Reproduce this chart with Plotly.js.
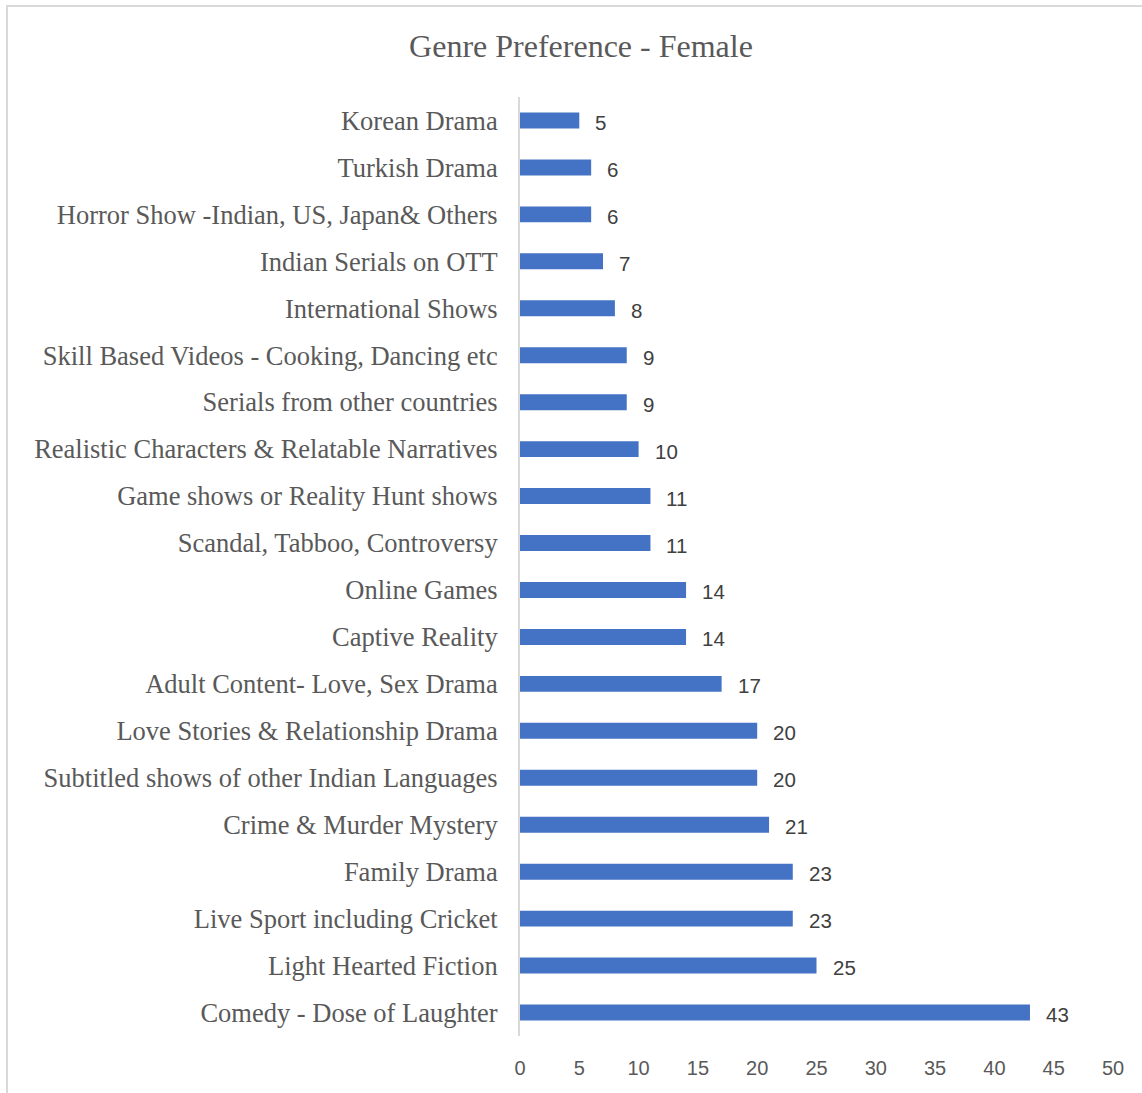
<!DOCTYPE html>
<html>
<head>
<meta charset="utf-8">
<script src="https://cdn.plot.ly/plotly-3.0.1.min.js"></script>
<style>
  html, body { margin: 0; padding: 0; background: #ffffff; }
  #wrap { position: relative; width: 1142px; height: 1093px; overflow: hidden; }
  #chart { position: absolute; left: 0; top: 0; width: 1142px; height: 1093px; }
  #frame { position: absolute; left: 6px; top: 5px; width: 1200px; height: 1200px;
           border-left: 2px solid #d9d9d9; border-top: 2px solid #d9d9d9; pointer-events: none; }
</style>
</head>
<body>
<div id="wrap">
  <div id="chart"></div>
  <div id="frame"></div>
</div>
<script>
// Data (top to bottom as shown)
const chartTitle = "Genre Preference - Female";
const genres = [
  "Korean Drama",
  "Turkish Drama",
  "Horror Show -Indian, US, Japan& Others",
  "Indian Serials on OTT",
  "International Shows",
  "Skill Based Videos - Cooking, Dancing etc",
  "Serials from other countries",
  "Realistic Characters & Relatable Narratives",
  "Game shows or Reality Hunt shows",
  "Scandal, Tabboo, Controversy",
  "Online Games",
  "Captive Reality",
  "Adult Content- Love, Sex Drama",
  "Love Stories & Relationship Drama",
  "Subtitled shows of other Indian Languages",
  "Crime & Murder Mystery",
  "Family Drama",
  "Live Sport including Cricket",
  "Light Hearted Fiction",
  "Comedy - Dose of Laughter"
];
const counts = [5, 6, 6, 7, 8, 9, 9, 10, 11, 11, 14, 14, 17, 20, 20, 21, 23, 23, 25, 43];
const xTicks = [0, 5, 10, 15, 20, 25, 30, 35, 40, 45, 50];

const serif = "'Liberation Serif', 'Times New Roman', serif";
const sans = "'Liberation Sans', Arial, sans-serif";
const grey = "#595959";

const trace = {
  type: "bar",
  orientation: "h",
  x: counts,
  y: genres,
  marker: { color: "#4472C4", line: { width: 0 } },
  width: 0.34,
  hoverinfo: "x+y"
};

const labelAnnotations = counts.map((v, i) => ({
  x: v,
  y: genres[i],
  xref: "x",
  yref: "y",
  text: String(v),
  showarrow: false,
  xanchor: "left",
  yanchor: "middle",
  xshift: 14,
  yshift: -2,
  font: { family: sans, size: 20.5, color: "#404040" }
}));

const layout = {
  width: 1142,
  height: 1093,
  paper_bgcolor: "#ffffff",
  plot_bgcolor: "#ffffff",
  margin: { l: 520, r: 29, t: 96.5, b: 56.5, pad: 0 },
  title: {
    text: chartTitle,
    font: { family: serif, size: 32, color: grey },
    xref: "container",
    yref: "container",
    x: 581 / 1142,
    xanchor: "center",
    y: 1 - 46 / 1093,
    yanchor: "middle"
  },
  showlegend: false,
  xaxis: {
    range: [0, 50],
    tickvals: xTicks,
    ticktext: xTicks.map(String),
    showgrid: false,
    zeroline: false,
    showline: false,
    ticks: "outside",
    ticklen: 14,
    tickcolor: "rgba(0,0,0,0)",
    tickfont: { family: sans, size: 20, color: grey },
    fixedrange: true
  },
  yaxis: {
    type: "category",
    autorange: "reversed",
    showgrid: false,
    zeroline: false,
    showline: true,
    linecolor: "#d9d9d9",
    linewidth: 2,
    ticks: "outside",
    ticklen: 15,
    tickcolor: "rgba(0,0,0,0)",
    tickfont: { family: serif, size: 26.5, color: grey },
    fixedrange: true
  },
  annotations: labelAnnotations
};

Plotly.newPlot("chart", [trace], layout, { displayModeBar: false, staticPlot: true });
</script>
</body>
</html>
